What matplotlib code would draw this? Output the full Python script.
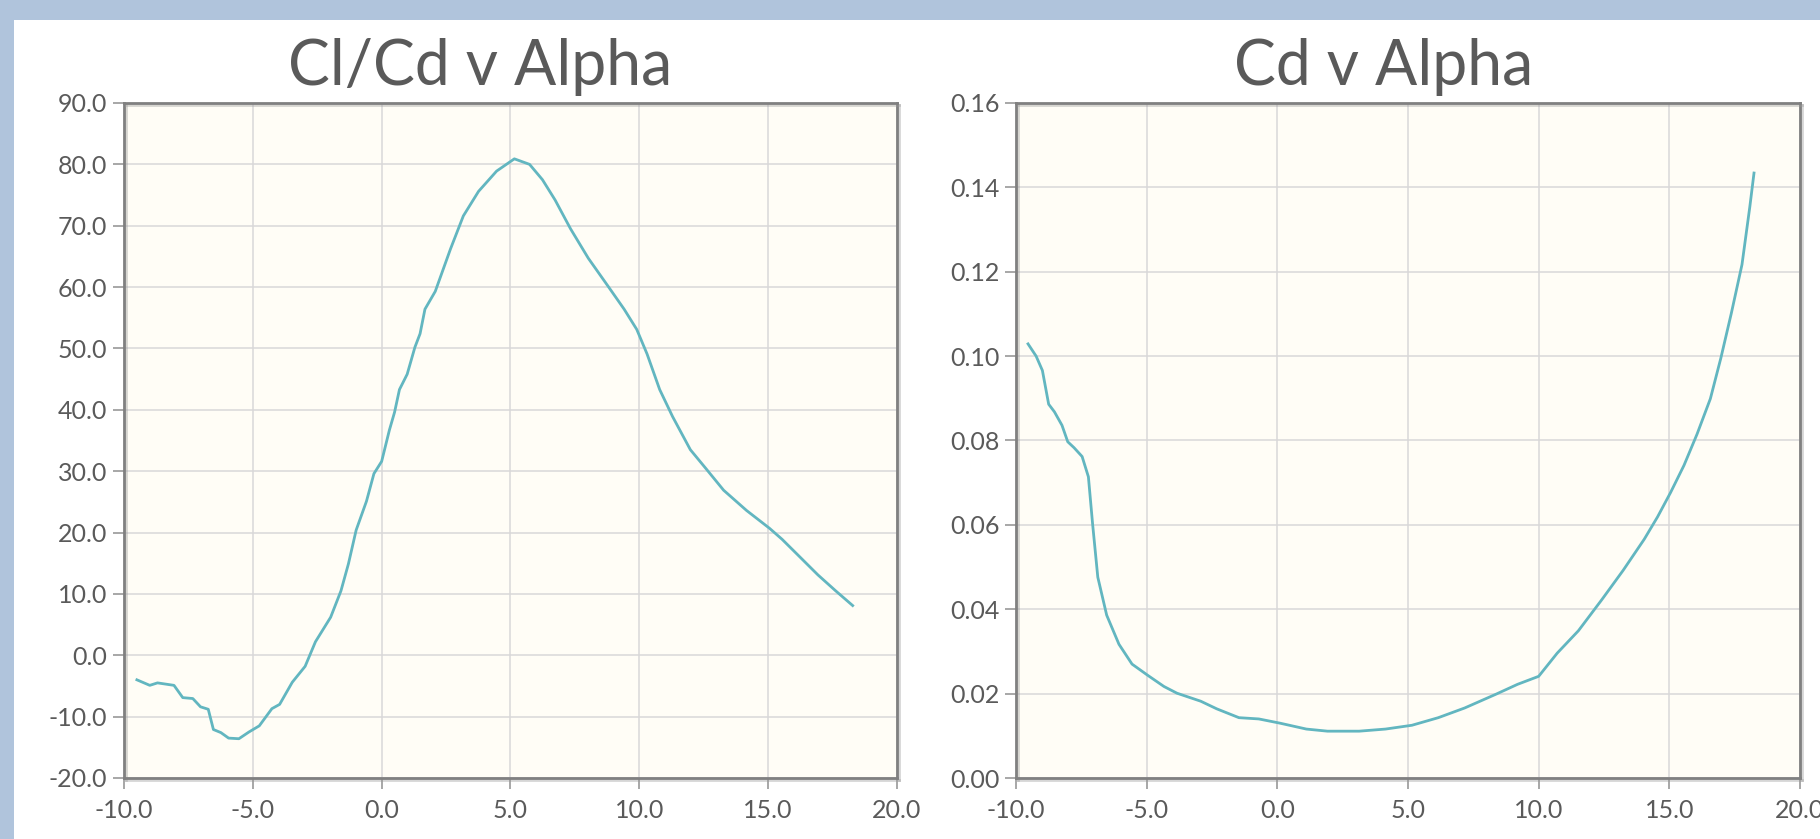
import numpy as np
import matplotlib
matplotlib.use("Agg")
import matplotlib.pyplot as plt
from matplotlib.ticker import FormatStrFormatter
import matplotlib.patheffects as pe

plt.rcParams['font.family'] = ['Lato', 'DejaVu Sans']
plt.rcParams['axes.unicode_minus'] = False

# Cl/Cd v Alpha
alpha_ld = [-9.5, -9.0, -8.7, -8.06, -7.72, -7.33, -7.03, -6.73, -6.53, -6.24,
            -5.94, -5.54, -5.15, -4.75, -4.26, -3.96, -3.47, -2.97, -2.57, -1.98,
            -1.58, -1.29, -0.99, -0.59, -0.30, 0.0, 0.30, 0.50, 0.69, 0.99,
            1.29, 1.49, 1.68, 2.08, 2.67, 3.17, 3.76, 4.46, 5.15, 5.74,
            6.24, 6.73, 7.33, 8.02, 8.81, 9.41, 9.90, 10.30, 10.79, 11.29,
            11.98, 12.57, 13.27, 14.16, 15.05, 15.54, 16.14, 16.93, 17.62, 18.28]
cl_cd = [-4.0, -4.9, -4.5, -4.9, -6.9, -7.05, -8.4, -8.8, -12.1, -12.6,
         -13.5, -13.6, -12.5, -11.5, -8.7, -8.0, -4.4, -1.8, 2.2, 6.2,
         10.5, 14.9, 20.4, 25.1, 29.6, 31.6, 36.7, 39.6, 43.3, 45.8,
         50.2, 52.4, 56.4, 59.3, 66.2, 71.6, 75.6, 78.9, 80.9, 80.0,
         77.5, 74.2, 69.5, 64.7, 60.0, 56.4, 53.1, 49.1, 43.3, 38.9,
         33.5, 30.5, 26.9, 23.6, 20.7, 18.9, 16.4, 13.1, 10.5, 8.1]

# Cd v Alpha
alpha_cd = [-9.54, -9.23, -8.99, -8.75, -8.53, -8.24, -8.02, -7.78, -7.47, -7.23,
            -7.07, -6.87, -6.53, -6.06, -5.56, -4.95, -4.34, -3.84, -2.93, -2.32,
            -1.47, -0.71, 0.10, 1.11, 1.92, 3.13, 4.14, 5.15, 6.16, 7.17,
            8.38, 9.19, 10.0, 10.71, 11.52, 12.42, 13.23, 14.04, 14.55, 15.05,
            15.56, 16.06, 16.57, 16.97, 17.37, 17.78, 18.08, 18.24]
cd = [0.1029, 0.1000, 0.0966, 0.0886, 0.0868, 0.0836, 0.0797, 0.0783, 0.0762, 0.0714,
      0.0603, 0.0476, 0.0386, 0.0317, 0.0270, 0.0243, 0.0217, 0.0201, 0.0182, 0.0164,
      0.0143, 0.0140, 0.0130, 0.0116, 0.0111, 0.0111, 0.0116, 0.0125, 0.0143, 0.0166,
      0.0199, 0.0222, 0.0241, 0.0296, 0.0349, 0.0423, 0.0492, 0.0566, 0.0619, 0.0677,
      0.0741, 0.0815, 0.0899, 0.0995, 0.1101, 0.1217, 0.1354, 0.1434]

x_ticks = [-10, -5, 0, 5, 10, 15, 20]
ld_ticks = [-20, -10, 0, 10, 20, 30, 40, 50, 60, 70, 80, 90]
cd_ticks = [0.00, 0.02, 0.04, 0.06, 0.08, 0.10, 0.12, 0.14, 0.16]

line_col = '#62b6c0'
txt_col = '#5a5a5a'

fig = plt.figure(figsize=(18.2, 8.39), dpi=100)
fig.patch.set_facecolor('#b0c4dc')
# white panel
fig.add_artist(plt.Rectangle((14 / 1820, 0), 1 - 14 / 1820, 1 - 20 / 839,
                             transform=fig.transFigure, facecolor='white',
                             edgecolor='none', zorder=0))

ax1 = fig.add_axes([124 / 1820, 1 - 778 / 839, (897 - 124) / 1820, (778 - 103) / 839])
ax2 = fig.add_axes([1016 / 1820, 1 - 778 / 839, (1800 - 1016) / 1820, (778 - 103) / 839])

def style(ax, yticks, yfmt):
    ax.set_facecolor('#fffdf6')
    ax.set_xlim(-10, 20)
    ax.set_xticks(x_ticks)
    ax.set_ylim(yticks[0], yticks[-1])
    ax.set_yticks(yticks)
    ax.xaxis.set_major_formatter(FormatStrFormatter('%.1f'))
    ax.yaxis.set_major_formatter(FormatStrFormatter(yfmt))
    ax.grid(True, color='#d8d8d8', linewidth=1.1)
    ax.set_axisbelow(True)
    for s in ax.spines.values():
        s.set_color('#808080')
        s.set_linewidth(2.0)
        s.set_path_effects([pe.SimpleLineShadow(offset=(1.5, -1.5), shadow_color='#999999', alpha=0.4),
                            pe.Normal()])
    ax.tick_params(direction='out', length=8, width=1.3, color='#a0a0a0',
                   labelcolor=txt_col, labelsize=18)
    ax.tick_params(axis='x', pad=7)
    ax.tick_params(axis='y', pad=4)

style(ax1, ld_ticks, '%.1f')
style(ax2, cd_ticks, '%.2f')

ax1.plot(alpha_ld, cl_cd, color=line_col, linewidth=2.0)
ax2.plot(alpha_cd, cd, color=line_col, linewidth=2.0)

fig.text(480 / 1820, 1 - 85 / 839, 'Cl/Cd v Alpha', ha='center', va='baseline',
         fontsize=45, color=txt_col)
fig.text(1384 / 1820, 1 - 85 / 839, 'Cd v Alpha', ha='center', va='baseline',
         fontsize=45, color=txt_col)

fig.savefig('out.png', dpi=100, facecolor=fig.get_facecolor())
